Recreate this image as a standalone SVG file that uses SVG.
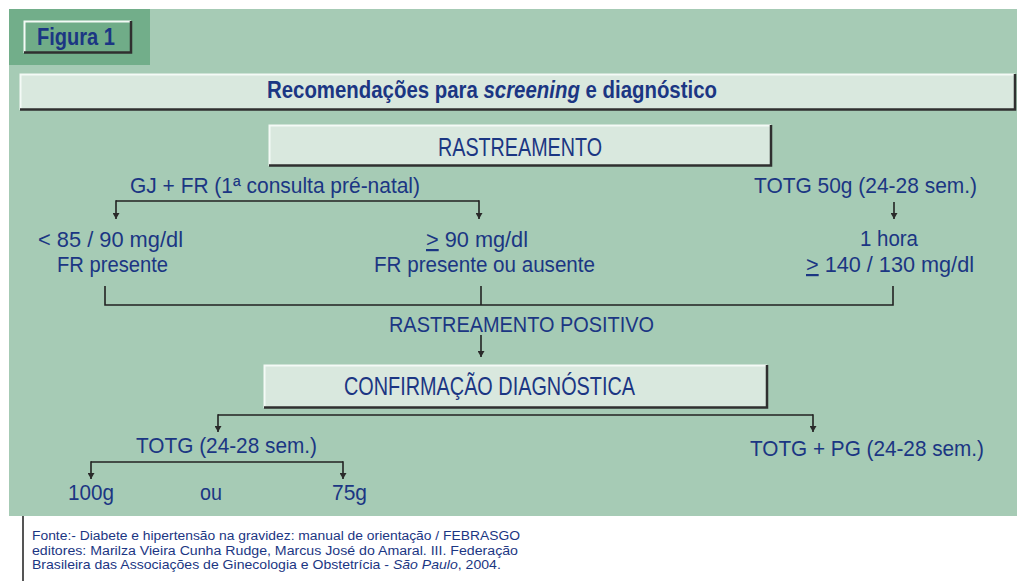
<svg xmlns="http://www.w3.org/2000/svg" width="1017" height="581" viewBox="0 0 1017 581">
<defs>
<marker id="ah" viewBox="0 0 6 7" markerWidth="6" markerHeight="7" refX="6" refY="3.5" orient="auto" markerUnits="userSpaceOnUse">
<path d="M0,0 L6,3.5 L0,7 z" fill="#2a2a2a"/>
</marker>
<style>
text{font-family:"Liberation Sans",Arial,sans-serif;fill:#1b3683}
.n{font-size:22px}
.b{font-size:25px}
.h{font-size:24px;font-weight:bold}
.f{font-size:12.5px}
.i{font-style:italic}
.c{fill:none;stroke:#222;stroke-width:1.6}
.a{marker-end:url(#ah)}
.box{fill:#d9e8de}
.hl{stroke:#f4faf6;stroke-width:2;fill:none}
.sh{stroke:#2f2f2f;stroke-width:2.5;fill:none}
</style>
</defs>
<rect x="0" y="0" width="1017" height="581" fill="#ffffff"/>
<rect x="9" y="9" width="1008" height="507" fill="#a6cbb5"/>
<rect x="9" y="9" width="141" height="56" fill="#72ae8a"/>

<g id="figura">
<rect x="24" y="21" width="107" height="32" fill="#70ac88"/>
<path class="hl" d="M24.5,53 V21.5 H131"/>
<path class="sh" d="M24,52.5 H131 V21"/>
<text class="h" x="37" y="45" textLength="78" lengthAdjust="spacingAndGlyphs">Figura 1</text>
</g>

<g id="titulo">
<rect class="box" x="20" y="74" width="995" height="36"/>
<path class="hl" d="M20.5,110 V74.5 H1015"/>
<path class="sh" d="M20,109.5 H1015 V74"/>
<text class="h" transform="translate(267,98) scale(0.85,1)" x="0" y="0">Recomendações para <tspan class="i">screening</tspan> e diagnóstico</text>
</g>

<g id="rastreamento">
<rect class="box" x="269" y="125" width="502" height="41"/>
<path class="hl" d="M269.5,166 V125.5 H771"/>
<path class="sh" d="M269,165.5 H771 V125"/>
<text class="b" x="438" y="156" textLength="164" lengthAdjust="spacingAndGlyphs">RASTREAMENTO</text>
</g>

<g id="gj-fr">
<text class="n" x="130" y="193" textLength="290" lengthAdjust="spacingAndGlyphs">GJ + FR (1ª consulta pré-natal)</text>
</g>
<g id="totg50">
<text class="n" x="754" y="193" textLength="223" lengthAdjust="spacingAndGlyphs">TOTG 50g (24-28 sem.)</text>
</g>
<g id="menor85">
<text class="n" x="38" y="247" textLength="145" lengthAdjust="spacingAndGlyphs">&lt; 85 / 90 mg/dl</text>
<text class="n" x="57" y="272" textLength="111" lengthAdjust="spacingAndGlyphs">FR presente</text>
</g>
<g id="maior90">
<text class="n" x="426" y="247" textLength="102" lengthAdjust="spacingAndGlyphs"><tspan text-decoration="underline">&gt;</tspan> 90 mg/dl</text>
<text class="n" x="374" y="272" textLength="221" lengthAdjust="spacingAndGlyphs">FR presente ou ausente</text>
</g>
<g id="umahora">
<text class="n" x="860" y="246" textLength="58" lengthAdjust="spacingAndGlyphs">1 hora</text>
<text class="n" x="806" y="272" textLength="168" lengthAdjust="spacingAndGlyphs"><tspan text-decoration="underline">&gt;</tspan> 140 / 130 mg/dl</text>
</g>
<g id="positivo">
<text class="n" x="389" y="332" textLength="265" lengthAdjust="spacingAndGlyphs">RASTREAMENTO POSITIVO</text>
</g>

<g id="confirmacao">
<rect class="box" x="264" y="365" width="503" height="43"/>
<path class="hl" d="M264.5,408 V365.5 H767"/>
<path class="sh" d="M264,407.5 H767 V365"/>
<text class="b" x="344" y="395" textLength="291" lengthAdjust="spacingAndGlyphs">CONFIRMAÇÃO DIAGNÓSTICA</text>
</g>

<g id="totg">
<text class="n" x="136" y="453" textLength="181" lengthAdjust="spacingAndGlyphs">TOTG (24-28 sem.)</text>
</g>
<g id="totgpg">
<text class="n" x="750" y="456" textLength="234" lengthAdjust="spacingAndGlyphs">TOTG + PG (24-28 sem.)</text>
</g>
<g id="g100">
<text class="n" x="68" y="500" textLength="46" lengthAdjust="spacingAndGlyphs">100g</text>
</g>
<g id="ou">
<text class="n" x="200" y="500" textLength="22" lengthAdjust="spacingAndGlyphs">ou</text>
</g>
<g id="g75">
<text class="n" x="332" y="500" textLength="35" lengthAdjust="spacingAndGlyphs">75g</text>
</g>

<g id="connectors">
<path class="c" d="M116,201 H479"/>
<path class="c a" d="M116,200.2 V219"/>
<path class="c a" d="M479,200.2 V219"/>
<path class="c a" d="M894,202 V219"/>
<path class="c" d="M105,286 V305 H893 V286"/>
<path class="c" d="M481,286 V305"/>
<path class="c a" d="M481,335 V357"/>
<path class="c" d="M218,415 H813"/>
<path class="c a" d="M218,414.2 V432"/>
<path class="c a" d="M813,414.2 V432"/>
<path class="c" d="M91,462 H343"/>
<path class="c a" d="M91,461.2 V479"/>
<path class="c a" d="M343,461.2 V479"/>
</g>

<g id="fonte">
<line x1="23" y1="516" x2="23" y2="581" stroke="#555" stroke-width="2"/>
<text class="f" x="32" y="540" textLength="488" lengthAdjust="spacingAndGlyphs">Fonte:- Diabete e hipertensão na gravidez: manual de orientação / FEBRASGO</text>
<text class="f" x="32" y="554.5" textLength="486" lengthAdjust="spacingAndGlyphs">editores: Marilza Vieira Cunha Rudge, Marcus José do Amaral. III. Federação</text>
<text class="f" transform="translate(32,569) scale(1.125,1)" x="0" y="0">Brasileira das Associações de Ginecologia e Obstetrícia - <tspan class="i">São Paulo</tspan>, 2004.</text>
</g>
</svg>
